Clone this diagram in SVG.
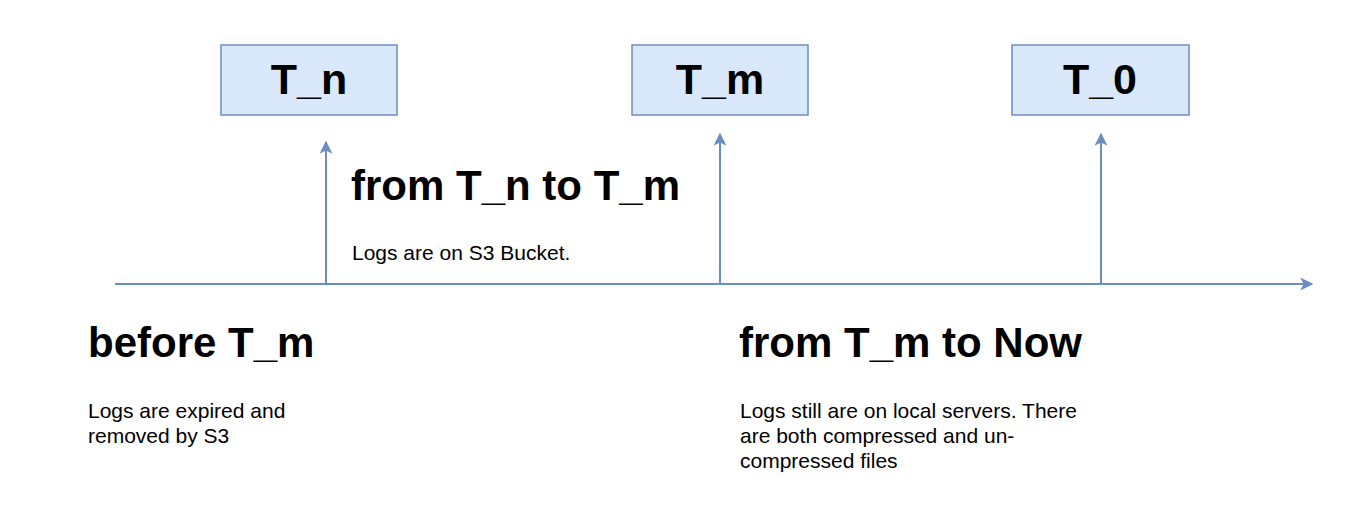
<svg xmlns="http://www.w3.org/2000/svg" width="1366" height="510" viewBox="0 0 1366 510">
<style>
.box{fill:#dae8fc;stroke:#6c8ebf;stroke-width:1.5}
.bt{font-family:"Liberation Sans",Arial,sans-serif;font-weight:bold;font-size:43px;fill:#000;text-anchor:middle}
.h{font-family:"Liberation Sans",Arial,sans-serif;font-weight:bold;font-size:42px;fill:#000}
.s{font-family:"Liberation Sans",Arial,sans-serif;font-size:21px;fill:#000}
.ln{stroke:#6c8ebf;stroke-width:2;fill:none}
</style>
<defs>
<marker id="ah" viewBox="0 0 10 10" refX="9" refY="5" markerWidth="13" markerHeight="13" markerUnits="userSpaceOnUse" orient="auto">
<path d="M0,0 L10,5 L0,10 L2.5,5 Z" fill="#6c8ebf"/>
</marker>
</defs>
<rect width="1366" height="510" fill="#fff"/>
<g id="connectors">
<line class="ln" x1="115" y1="284" x2="1312" y2="284" marker-end="url(#ah)"/>
<line class="ln" x1="326" y1="284" x2="326" y2="142" marker-end="url(#ah)"/>
<line class="ln" x1="720" y1="284" x2="720" y2="134" marker-end="url(#ah)"/>
<line class="ln" x1="1101" y1="284" x2="1101" y2="134" marker-end="url(#ah)"/>
</g>
<g id="node-tn">
<rect class="box" x="221" y="45" width="176" height="70"/>
<text class="bt" x="309" y="94">T_n</text>
</g>
<g id="node-tm">
<rect class="box" x="632" y="45" width="176" height="70"/>
<text class="bt" x="720" y="94">T_m</text>
</g>
<g id="node-t0">
<rect class="box" x="1012" y="45" width="177" height="70"/>
<text class="bt" x="1100" y="94">T_0</text>
</g>
<g id="label-mid">
<text class="h" x="351" y="200">from T_n to T_m</text>
<text class="s" x="352" y="260">Logs are on S3 Bucket.</text>
</g>
<g id="label-left">
<text class="h" x="88" y="357">before T_m</text>
<text class="s" x="88" y="418">Logs are expired and</text>
<text class="s" x="88" y="443">removed by S3</text>
</g>
<g id="label-right">
<text class="h" x="739" y="357">from T_m to Now</text>
<text class="s" x="740" y="418">Logs still are on local servers. There</text>
<text class="s" x="740" y="443">are both compressed and un-</text>
<text class="s" x="740" y="468">compressed files</text>
</g>
</svg>
